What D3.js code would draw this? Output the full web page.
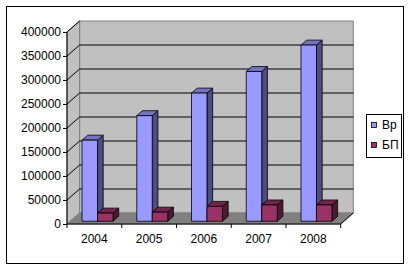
<!DOCTYPE html>
<html>
<head>
<meta charset="utf-8">
<script src="https://cdn.jsdelivr.net/npm/d3@7"></script>
<style>
  body { margin: 0; background: #fff; }
  text { font-family: "Liberation Sans", Arial, sans-serif; font-size: 12px; fill: #000; }
</style>
</head>
<body>
<script>
// data
var years = ["2004", "2005", "2006", "2007", "2008"];
var seriesNames = ["Вр", "БП"];
var vrValues = [169000, 220000, 267000, 312000, 367000];
var bpValues = [17000, 19000, 31000, 34000, 34000];
var yTicks = [0, 50000, 100000, 150000, 200000, 250000, 300000, 350000, 400000];

var width = 412, height = 270;
var plot = { left: 67, right: 340.7, top: 32, bottom: 224 };
var depth = { dx: 12.6, dy: -11 };   // full depth of the 3D box
var barZ0 = 0.25, barZ1 = 0.7;         // bars sit in the middle of the floor

var colors = {
  "Вр": { front: "#9999ff", side: "#4d4d80", top: "#7373bf" },
  "БП": { front: "#993366", side: "#4d1a33", top: "#73264d" }
};

var svg = d3.select("body").append("svg")
  .attr("width", width)
  .attr("height", height);

// outer frame
svg.append("rect")
  .attr("x", 6.5).attr("y", 6.5)
  .attr("width", 397).attr("height", 257)
  .attr("fill", "#fff").attr("stroke", "#000");

var yScale = d3.scaleLinear().domain([0, 400000]).range([plot.bottom, plot.top]);
var xScale = d3.scaleBand().domain(years).range([plot.left, plot.right]);
var bw = xScale.bandwidth();
var xInner = d3.scaleBand().domain(seriesNames).range([bw * 0.217, bw * 0.783]);

function pt(x, y, z) { return [x + z * depth.dx, y + z * depth.dy]; }
function poly(pts) { return "M" + pts.map(function(p) { return p[0] + "," + p[1]; }).join("L") + "Z"; }

var y0 = yScale(0), yTop = yScale(400000);

// back wall
svg.append("path")
  .attr("d", poly([pt(plot.left, yTop, 1), pt(plot.right, yTop, 1), pt(plot.right, y0, 1), pt(plot.left, y0, 1)]))
  .attr("fill", "#c0c0c0").attr("stroke", "#808080");
// left wall
svg.append("path")
  .attr("d", poly([pt(plot.left, yTop, 0), pt(plot.left, yTop, 1), pt(plot.left, y0, 1), pt(plot.left, y0, 0)]))
  .attr("fill", "#c0c0c0").attr("stroke", "#808080");
// floor
svg.append("path")
  .attr("d", poly([pt(plot.left, y0, 0), pt(plot.right, y0, 0), pt(plot.right, y0, 1), pt(plot.left, y0, 1)]))
  .attr("fill", "#808080").attr("stroke", "#808080");
svg.append("line")
  .attr("x1", plot.right).attr("y1", y0)
  .attr("x2", pt(plot.right, y0, 1)[0]).attr("y2", pt(plot.right, y0, 1)[1])
  .attr("stroke", "#000");

// gridlines
var grid = yTicks.filter(function(t) { return t > 0 && t < 400000; });
svg.selectAll(".gridback").data(grid).enter().append("line")
  .attr("class", "gridback")
  .attr("x1", pt(plot.left, 0, 1)[0]).attr("x2", pt(plot.right, 0, 1)[0])
  .attr("y1", function(d) { return yScale(d) + depth.dy; })
  .attr("y2", function(d) { return yScale(d) + depth.dy; })
  .attr("stroke", "#000");
svg.selectAll(".gridside").data(yTicks.slice(1)).enter().append("line")
  .attr("class", "gridside")
  .attr("x1", plot.left).attr("x2", plot.left + depth.dx)
  .attr("y1", function(d) { return yScale(d); })
  .attr("y2", function(d) { return yScale(d) + depth.dy; })
  .attr("stroke", "#000");

// bars
var bars = [];
years.forEach(function(yr, i) {
  bars.push({ year: yr, s: "Вр", v: vrValues[i] });
  bars.push({ year: yr, s: "БП", v: bpValues[i] });
});

var g = svg.selectAll(".bar").data(bars).enter().append("g").attr("class", "bar");
function bx(d) { return xScale(d.year) + xInner(d.s); }
g.append("path") // side
  .attr("d", function(d) {
    var x = bx(d) + xInner.bandwidth();
    return poly([pt(x, yScale(d.v), barZ0), pt(x, yScale(d.v), barZ1), pt(x, y0, barZ1), pt(x, y0, barZ0)]);
  })
  .attr("fill", function(d) { return colors[d.s].side; })
  .attr("stroke", "#000").attr("stroke-width", 0.8);
g.append("path") // top
  .attr("d", function(d) {
    var x = bx(d), x2 = x + xInner.bandwidth(), y = yScale(d.v);
    return poly([pt(x, y, barZ0), pt(x2, y, barZ0), pt(x2, y, barZ1), pt(x, y, barZ1)]);
  })
  .attr("fill", function(d) { return colors[d.s].top; })
  .attr("stroke", "#000").attr("stroke-width", 0.8);
g.append("path") // front
  .attr("d", function(d) {
    var x = bx(d), x2 = x + xInner.bandwidth(), y = yScale(d.v);
    return poly([pt(x, y, barZ0), pt(x2, y, barZ0), pt(x2, y0, barZ0), pt(x, y0, barZ0)]);
  })
  .attr("fill", function(d) { return colors[d.s].front; })
  .attr("stroke", "#000").attr("stroke-width", 0.8);

// axes
var yAxis = svg.append("g")
  .attr("transform", "translate(" + plot.left + ",0)")
  .call(d3.axisLeft(yScale).tickValues(yTicks).tickSize(4).tickPadding(2).tickFormat(d3.format("d")));
yAxis.select(".domain").attr("d", "M0," + yTop + "V" + y0);

var xAxis = svg.append("g")
  .attr("transform", "translate(0," + plot.bottom + ")")
  .call(d3.axisBottom(xScale).tickSize(0).tickPadding(10));
xAxis.select(".domain").attr("d", "M" + plot.left + ",0H" + plot.right);
xAxis.selectAll(".bound").data(d3.range(years.length + 1)).enter().append("line")
  .attr("class", "bound")
  .attr("x1", function(i) { return plot.left + i * bw; })
  .attr("x2", function(i) { return plot.left + i * bw; })
  .attr("y1", 0).attr("y2", 4)
  .attr("stroke", "#000");
svg.selectAll(".tick text").style("font-size", "12px").style("font-family", "Liberation Sans, Arial, sans-serif");

// legend
var legend = svg.append("g");
legend.append("rect")
  .attr("x", 366.5).attr("y", 114.5).attr("width", 35).attr("height", 43)
  .attr("fill", "#fff").attr("stroke", "#000");
seriesNames.forEach(function(s, i) {
  legend.append("rect")
    .attr("x", 371.5).attr("y", 122.5 + i * 20).attr("width", 5).attr("height", 5)
    .attr("fill", colors[s].front).attr("stroke", "#000").attr("stroke-width", 0.8);
  legend.append("text")
    .attr("x", 382).attr("y", 125 + i * 20)
    .attr("dy", "0.35em")
    .text(s);
});
</script>
</body>
</html>
